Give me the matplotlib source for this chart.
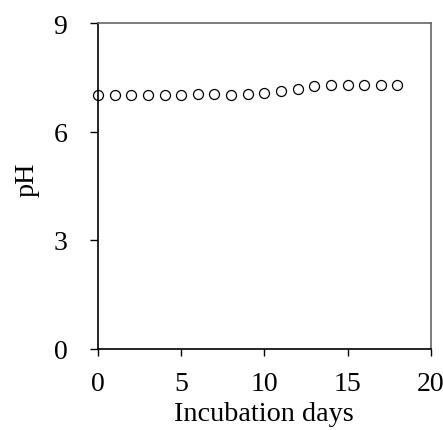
import matplotlib
matplotlib.use("Agg")
import matplotlib.pyplot as plt

days = [0, 1, 2, 3, 4, 5, 6, 7, 8, 9, 10, 11, 12, 13, 14, 15, 16, 17, 18]
ph = [7.02, 7.02, 7.02, 7.02, 7.02, 7.02, 7.04, 7.05, 7.00, 7.03, 7.07,
      7.11, 7.17, 7.26, 7.28, 7.29, 7.29, 7.29, 7.29]

plt.rcParams['font.family'] = 'Liberation Serif'

fig = plt.figure(figsize=(4.43, 4.31), dpi=100)
ax = fig.add_axes([98 / 443, 1 - 349.5 / 431, (430.7 - 98) / 443, (349.5 - 24) / 431])

ax.plot(days, ph, linestyle='none', marker='o', markersize=7.2,
        markerfacecolor='none', markeredgecolor='black', markeredgewidth=0.9,
        clip_on=False)

ax.set_xlim(0, 20)
ax.set_ylim(0, 9)
ax.set_xticks([0, 5, 10, 15, 20])
ax.set_yticks([0, 3, 6, 9])
ax.tick_params(axis='x', direction='out', length=5, width=1, pad=11, labelsize=20)
ax.tick_params(axis='y', direction='out', length=6, width=1, pad=16, labelsize=20)
ax.set_xlabel('Incubation days', fontsize=20.3, labelpad=4)
ax.set_ylabel('pH', fontsize=20.3)
ax.yaxis.set_label_coords(-0.177, 0.521)

for side in ['left', 'bottom']:
    ax.spines[side].set_color('black')
    ax.spines[side].set_linewidth(1.2)
for side in ['top', 'right']:
    ax.spines[side].set_color('#666666')
    ax.spines[side].set_linewidth(1.2)

fig.savefig('out.png', dpi=100)
